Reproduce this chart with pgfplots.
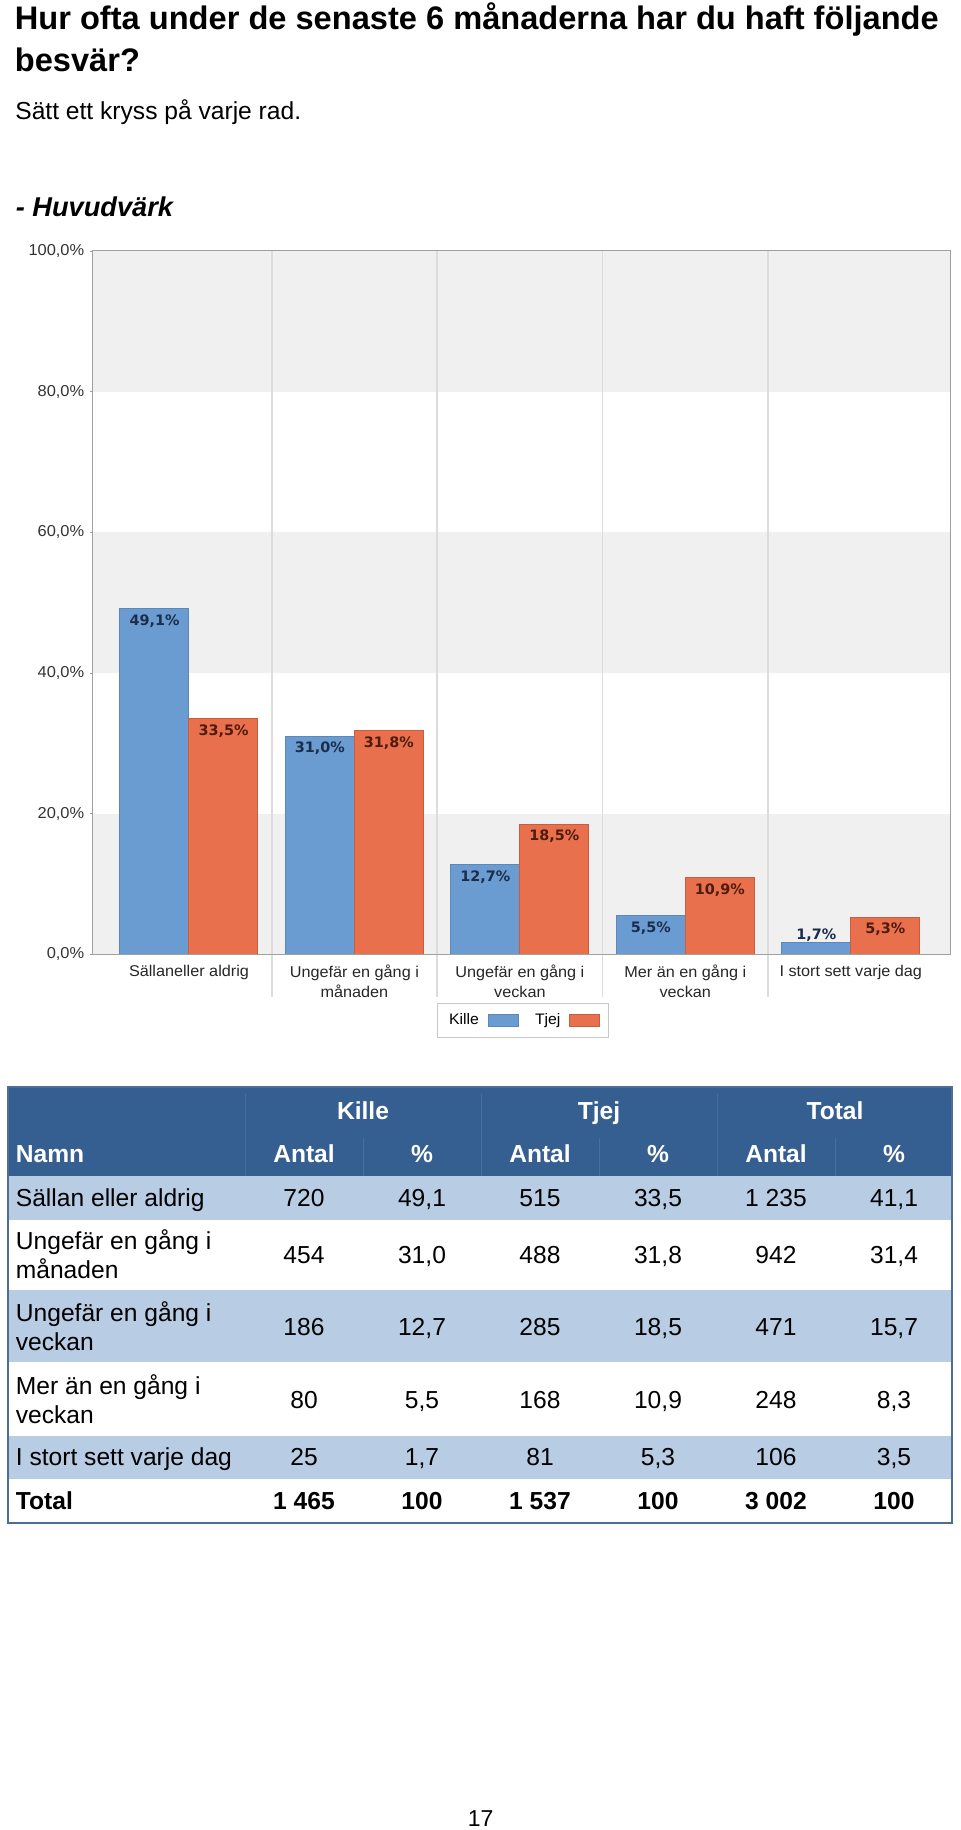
\documentclass[border=0pt]{standalone}
\usepackage{fontspec}
\setmainfont{Liberation Sans}
\newfontfamily\chartfont{Liberation Sans}[FakeStretch=1.04]
\newfontfamily\lblfont{DejaVu Sans}
\usepackage{pgfplots}
\pgfplotsset{compat=1.18}
\definecolor{kblue}{HTML}{6A9BD1}
\definecolor{kblued}{HTML}{5B87B9}
\definecolor{torange}{HTML}{E8704D}
\definecolor{toranged}{HTML}{C95E3E}
\definecolor{bandc}{HTML}{F0F0F0}
\definecolor{gridc}{HTML}{DCDCDC}
\definecolor{axisgray}{HTML}{A0A0A0}
\definecolor{knavy}{HTML}{1C2D4A}
\definecolor{tbrown}{HTML}{4E1B0D}
\definecolor{hdr}{HTML}{365F91}
\definecolor{hdrsep}{HTML}{4A6E9C}
\definecolor{lightrow}{HTML}{B8CCE4}
\definecolor{tborder}{HTML}{4F6D95}
\definecolor{legc}{HTML}{C8C8C8}
\newcommand\vals[7]{%
  \node[anchor=base] at (304,#1) {#2};
  \node[anchor=base] at (422,#1) {#3};
  \node[anchor=base] at (540,#1) {#4};
  \node[anchor=base] at (658,#1) {#5};
  \node[anchor=base] at (776,#1) {#6};
  \node[anchor=base] at (894,#1) {#7};}
\begin{document}
\begin{tikzpicture}
\path[use as bounding box] (0,0) rectangle (480pt,-915pt);
\begin{scope}[x=0.5pt,y=-0.5pt,every node/.style={inner sep=0pt}]
  % titles
  \node[anchor=base west,font=\bfseries\fontsize{16.3}{19}\selectfont] at (14.5,30) {Hur ofta under de senaste 6 månaderna har du haft följande};
  \node[anchor=base west,font=\bfseries\fontsize{16.3}{19}\selectfont] at (14.5,72) {besvär?};
  \node[anchor=base west,font=\fontsize{12.3}{14}\selectfont] at (15,120) {Sätt ett kryss på varje rad.};
  \node[anchor=base west,font=\bfseries\itshape\fontsize{13.6}{16}\selectfont] at (15.5,216.7) {- Huvudvärk};
  % table backgrounds
  \fill[hdr] (8,1087) rectangle (952,1176);
  \fill[lightrow] (8,1176) rectangle (952,1219.5);
  \fill[lightrow] (8,1290) rectangle (952,1362);
  \fill[lightrow] (8,1436) rectangle (952,1479);
  \draw[hdrsep,line width=0.5pt] (245,1094) -- (245,1176);
  \draw[hdrsep,line width=0.5pt] (481,1094) -- (481,1176);
  \draw[hdrsep,line width=0.5pt] (717,1094) -- (717,1176);
  \draw[hdrsep,line width=0.5pt] (363,1138) -- (363,1176);
  \draw[hdrsep,line width=0.5pt] (599,1138) -- (599,1176);
  \draw[hdrsep,line width=0.5pt] (835,1138) -- (835,1176);
  \draw[tborder,line width=0.7pt] (8,1087) -- (8,1523) -- (952,1523) -- (952,1087) -- cycle;
  % header text
  \begin{scope}[every node/.append style={text=white,font=\bfseries\fontsize{12.3}{14}\selectfont}]
    \node[anchor=base] at (363,1119) {Kille};
    \node[anchor=base] at (599,1119) {Tjej};
    \node[anchor=base] at (835,1119) {Total};
    \node[anchor=base west] at (15.5,1162.5) {Namn};
    \vals{1162.5}{Antal}{\%}{Antal}{\%}{Antal}{\%}
  \end{scope}
  % body text
  \begin{scope}[every node/.append style={font=\fontsize{12.3}{14}\selectfont}]
    \node[anchor=base west] at (15.5,1206.5) {Sällan eller aldrig};
    \vals{1206.5}{720}{49,1}{515}{33,5}{1 235}{41,1}
    \node[anchor=base west] at (15.5,1249.3) {Ungefär en gång i};
    \node[anchor=base west] at (15.5,1278.3) {månaden};
    \vals{1263.5}{454}{31,0}{488}{31,8}{942}{31,4}
    \node[anchor=base west] at (15.5,1321.5) {Ungefär en gång i};
    \node[anchor=base west] at (15.5,1350.5) {veckan};
    \vals{1335.5}{186}{12,7}{285}{18,5}{471}{15,7}
    \node[anchor=base west] at (15.5,1394) {Mer än en gång i};
    \node[anchor=base west] at (15.5,1423) {veckan};
    \vals{1408}{80}{5,5}{168}{10,9}{248}{8,3}
    \node[anchor=base west] at (15.5,1465.5) {I stort sett varje dag};
    \vals{1465.5}{25}{1,7}{81}{5,3}{106}{3,5}
  \end{scope}
  \begin{scope}[every node/.append style={font=\bfseries\fontsize{12.3}{14}\selectfont}]
    \node[anchor=base west] at (15.5,1509) {Total};
    \vals{1509}{1 465}{100}{1 537}{100}{3 002}{100}
  \end{scope}
  \node[anchor=base,font=\fontsize{11.5}{13}\selectfont] at (480.6,1826.5) {17};
\end{scope}
\begin{axis}[
  at={(46.35pt,-477.15pt)}, anchor=south west,
  scale only axis, width=428.65pt, height=351.75pt,
  xmin=-0.582, xmax=4.6, ymin=0, ymax=100,
  clip=false, axis on top,
  ybar, bar width=0.417,
  axis line style={draw=axisgray},
  xtick={0,1,2,3,4},
  xticklabels={Sällaneller aldrig,{Ungefär en gång i\\månaden},{Ungefär en gång i\\veckan},{Mer än en gång i\\veckan},I stort sett varje dag},
  xtick style={draw=none},
  xticklabel style={align=center,font=\chartfont\fontsize{7.8}{10}\selectfont,text=black!85,yshift=-0.5pt},
  ytick={0,20,40,60,80,100},
  ytick pos=left,
  yticklabels={{0,0\%},{20,0\%},{40,0\%},{60,0\%},{80,0\%},{100,0\%}},
  yticklabel style={font=\chartfont\fontsize{7.9}{9}\selectfont,text=black!80,xshift=0.8pt},
  /pgf/number format/assume math mode=true,
  ytick style={draw=axisgray},
  tick align=outside, major tick length=1.5pt,
  legend plot pos=right,
  legend columns=-1,
  legend style={at={(0.4013,-0.0688)},anchor=north west,draw=legc,fill=white,
    font=\chartfont\fontsize{7.6}{9}\selectfont,
    inner xsep=4pt, inner ysep=3pt,
    /tikz/every odd column/.append style={column sep=2.5pt},
    /tikz/every even column/.append style={column sep=6pt}},
  visualization depends on=rawy \as \rawy,
  nodes near coords={\pgfmathprintnumber[fixed,fixed zerofill,precision=1,use comma,assume math mode=true]{\pgfplotspointmeta}\%},
  nodes near coords style={font=\lblfont\bfseries\fontsize{7.2}{8}\selectfont,anchor=center,yshift={(\rawy<3 ? 3.4 : -6.2)*1pt}},
]
  \fill[bandc] (rel axis cs:0,0) rectangle (rel axis cs:1,0.2);
  \fill[bandc] (rel axis cs:0,0.4) rectangle (rel axis cs:1,0.6);
  \fill[bandc] (rel axis cs:0,0.8) rectangle (rel axis cs:1,1);
  \draw[gridc,line width=0.8pt] (axis cs:0.5,100) -- (axis cs:0.5,0) -- ++(0pt,-21.5pt);
  \draw[gridc,line width=0.8pt] (axis cs:1.5,100) -- (axis cs:1.5,0) -- ++(0pt,-21.5pt);
  \draw[gridc,line width=0.8pt] (axis cs:2.5,100) -- (axis cs:2.5,0) -- ++(0pt,-21.5pt);
  \draw[gridc,line width=0.8pt] (axis cs:3.5,100) -- (axis cs:3.5,0) -- ++(0pt,-21.5pt);
  \addplot[bar shift=-0.2085, fill=kblue, draw=kblued, line width=0.5pt,
    nodes near coords style={text=knavy},
    legend image code/.code={\draw[draw=kblued,fill=kblue] (0pt,-3pt) rectangle (15pt,3pt);}]
    coordinates {(0,49.1) (1,31.0) (2,12.7) (3,5.5) (4,1.7)};
  \addplot[bar shift=0.2085, fill=torange, draw=toranged, line width=0.5pt,
    nodes near coords style={text=tbrown},
    legend image code/.code={\draw[draw=toranged,fill=torange] (0pt,-3pt) rectangle (15pt,3pt);}]
    coordinates {(0,33.5) (1,31.8) (2,18.5) (3,10.9) (4,5.3)};
  \legend{Kille,Tjej}
\end{axis}
\end{tikzpicture}
\end{document}
